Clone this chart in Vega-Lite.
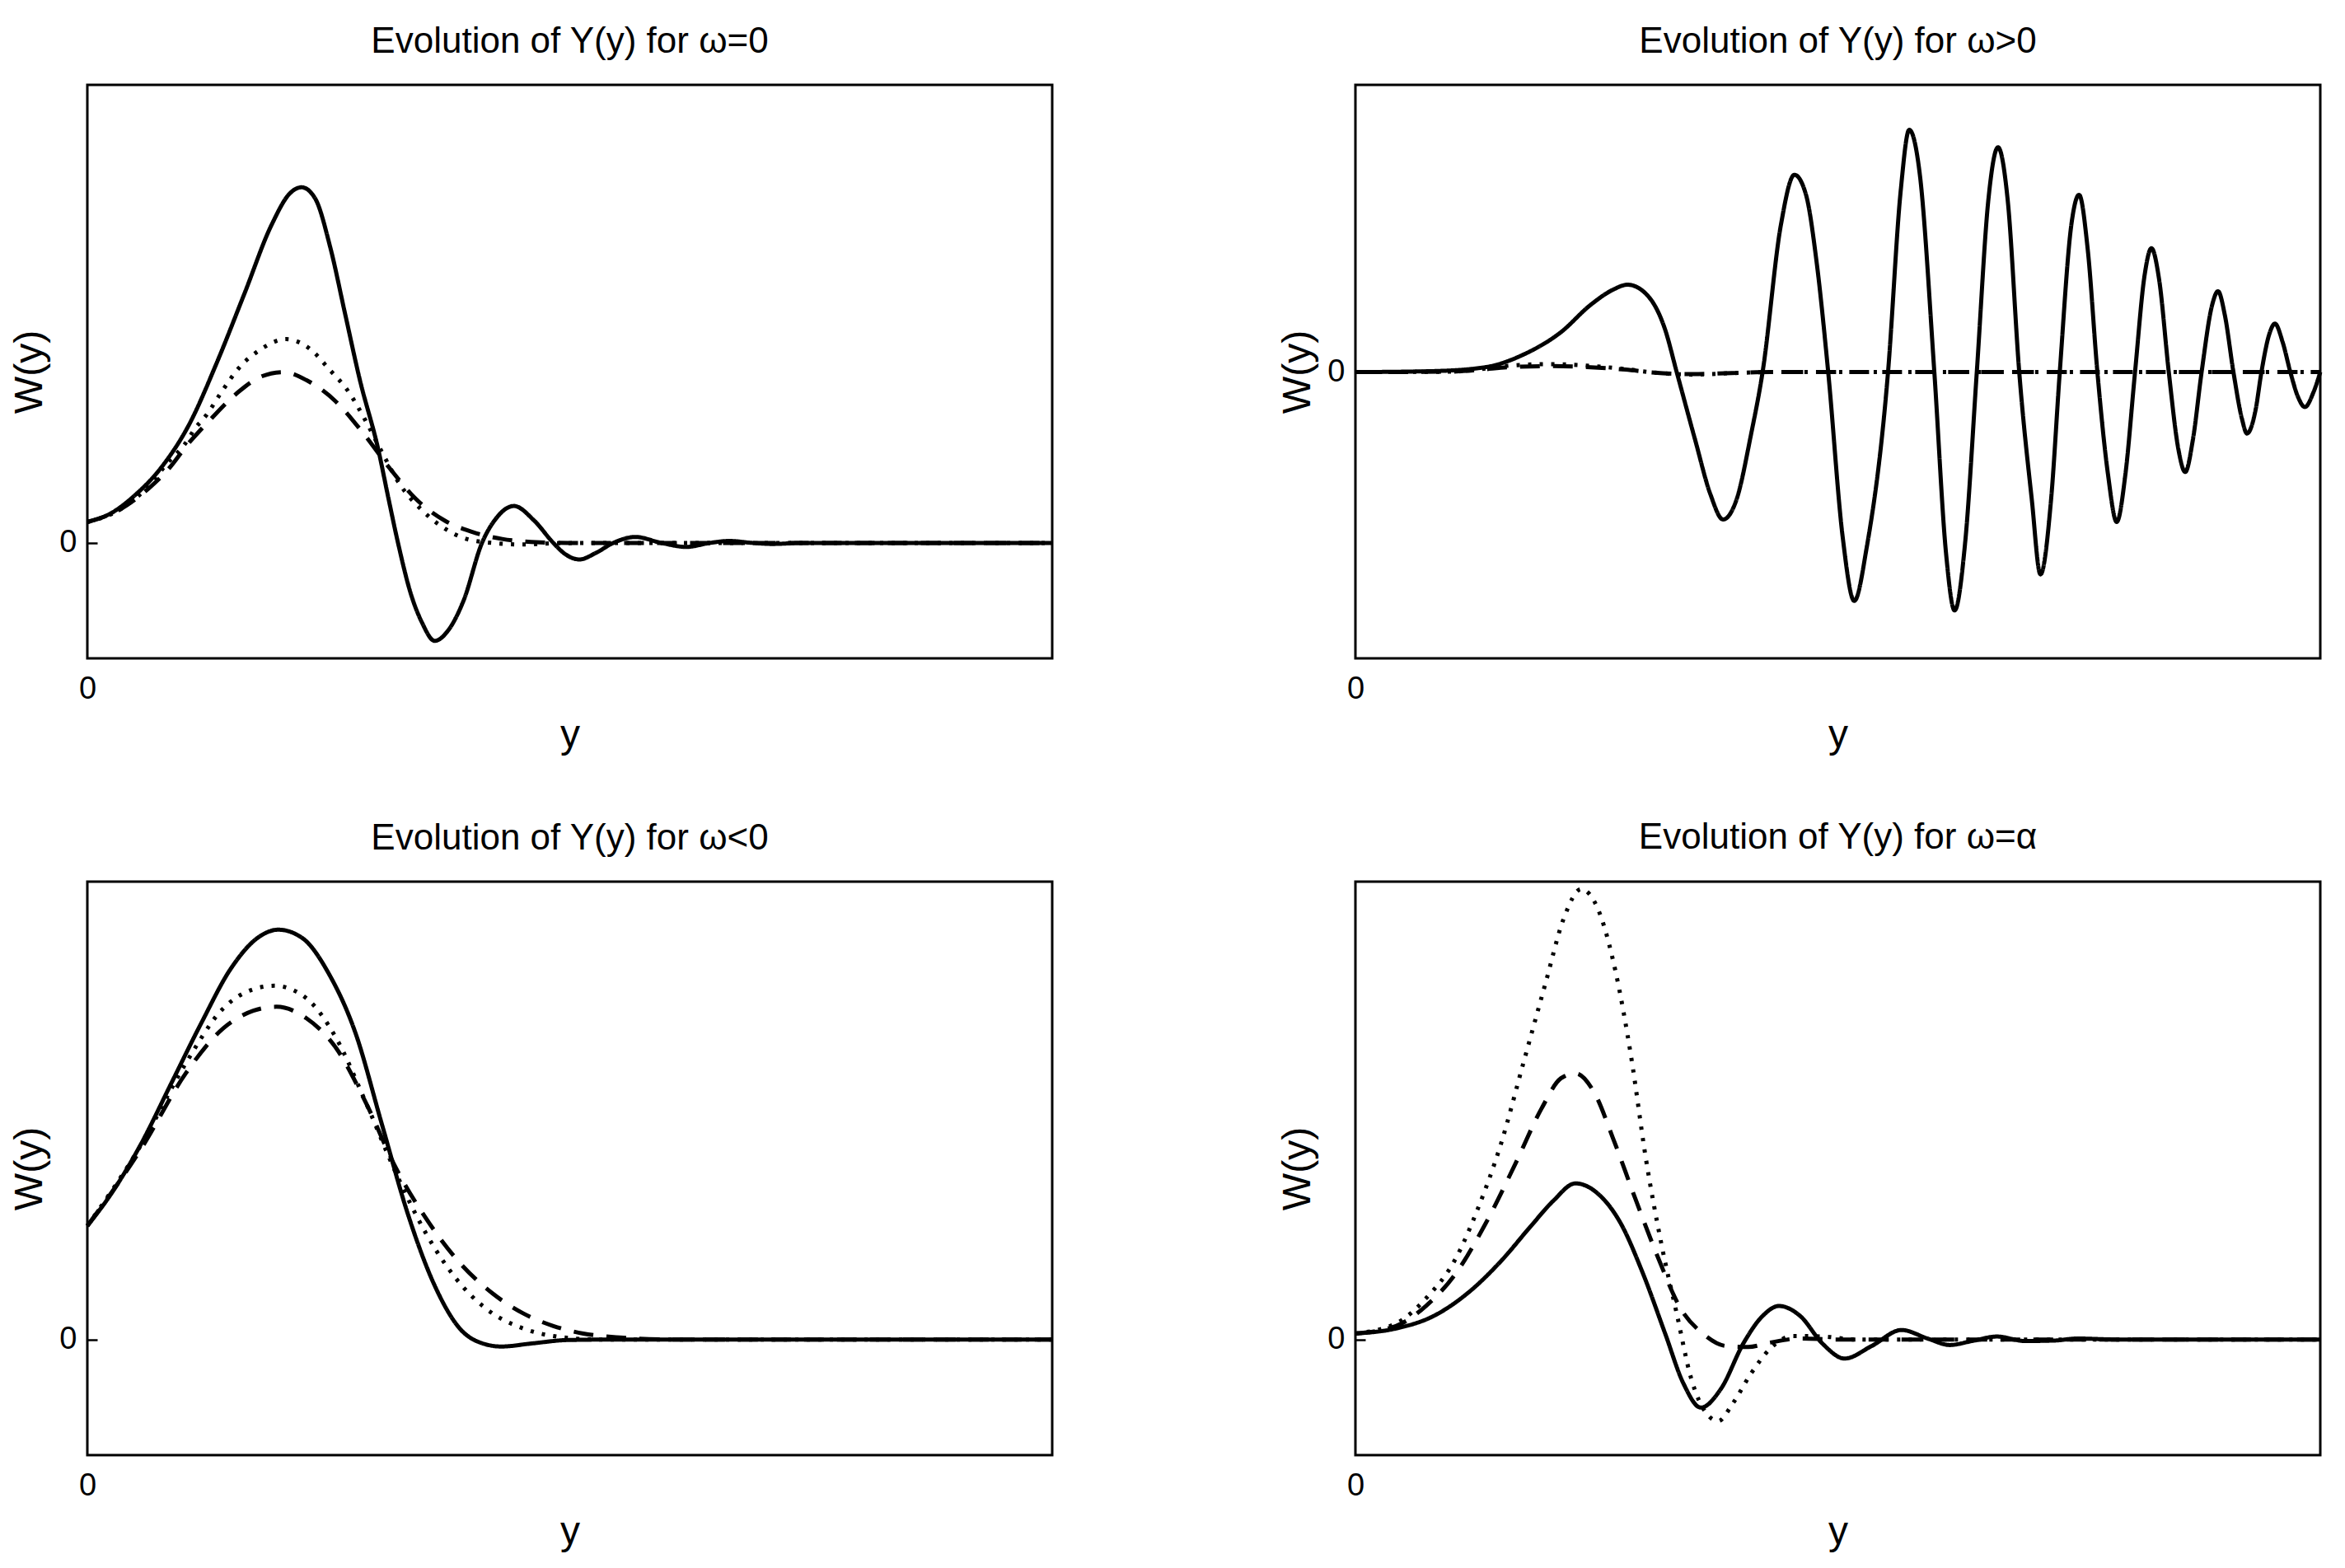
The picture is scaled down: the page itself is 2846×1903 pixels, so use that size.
{
  "$schema": "https://vega.github.io/schema/vega-lite/v6.json",
  "background": "white",
  "padding": {"left": 10, "top": 27, "right": 20, "bottom": 20},
  "config": {
    "font": "Liberation Sans",
    "view": {"stroke": "black", "strokeWidth": 3},
    "axis": {"grid": false, "domain": false, "labelFont": "Liberation Sans", "labelFontSize": 38, "labelColor": "black", "titleColor": "black", "titleFont": "Liberation Sans", "titleFontWeight": "normal", "titleFontSize": 48, "tickColor": "black", "tickWidth": 2.5, "labelFlush": false},
    "title": {"font": "Liberation Sans", "fontSize": 44, "fontWeight": "normal", "color": "black", "baseline": "alphabetic", "offset": 30, "anchor": "middle"},
    "line": {"color": "black", "interpolate": "monotone"}
  },
  "columns": 2,
  "spacing": {"row": 271, "column": 368},
  "bounds": "flush",
  "datasets": {
    "tl": [
      {"s": "dotted", "x": 0, "w": 0.42}, {"s": "dotted", "x": 0.33, "w": 0.66}, {"s": "dotted", "x": 0.64, "w": 1.15}, {"s": "dotted", "x": 0.83, "w": 1.6}, {"s": "dotted", "x": 1.0, "w": 1.95}, {"s": "dotted", "x": 1.12, "w": 2.3}, {"s": "dotted", "x": 1.23, "w": 2.55}, {"s": "dotted", "x": 1.39, "w": 3.02}, {"s": "dotted", "x": 1.57, "w": 3.5}, {"s": "dotted", "x": 1.8, "w": 3.88}, {"s": "dotted", "x": 2.06, "w": 4.08}, {"s": "dotted", "x": 2.31, "w": 3.88}, {"s": "dotted", "x": 2.51, "w": 3.47}, {"s": "dotted", "x": 2.71, "w": 3.02}, {"s": "dotted", "x": 2.88, "w": 2.46}, {"s": "dotted", "x": 3.05, "w": 1.83}, {"s": "dotted", "x": 3.25, "w": 1.14}, {"s": "dotted", "x": 3.45, "w": 0.69}, {"s": "dotted", "x": 3.68, "w": 0.32}, {"s": "dotted", "x": 3.93, "w": 0.08}, {"s": "dotted", "x": 4.2, "w": 0.0}, {"s": "dotted", "x": 4.5, "w": -0.03}, {"s": "dotted", "x": 4.8, "w": -0.01}, {"s": "dotted", "x": 5.2, "w": 0}, {"s": "dotted", "x": 10, "w": 0},
      {"s": "dashed", "x": 0, "w": 0.42}, {"s": "dashed", "x": 0.33, "w": 0.66}, {"s": "dashed", "x": 0.64, "w": 1.1}, {"s": "dashed", "x": 0.85, "w": 1.5}, {"s": "dashed", "x": 1.03, "w": 1.95}, {"s": "dashed", "x": 1.29, "w": 2.5}, {"s": "dashed", "x": 1.57, "w": 3.03}, {"s": "dashed", "x": 1.8, "w": 3.33}, {"s": "dashed", "x": 2.03, "w": 3.42}, {"s": "dashed", "x": 2.27, "w": 3.26}, {"s": "dashed", "x": 2.57, "w": 2.84}, {"s": "dashed", "x": 2.85, "w": 2.22}, {"s": "dashed", "x": 3.14, "w": 1.48}, {"s": "dashed", "x": 3.39, "w": 0.91}, {"s": "dashed", "x": 3.71, "w": 0.44}, {"s": "dashed", "x": 3.99, "w": 0.22}, {"s": "dashed", "x": 4.3, "w": 0.08}, {"s": "dashed", "x": 4.6, "w": 0.02}, {"s": "dashed", "x": 5.0, "w": 0}, {"s": "dashed", "x": 10, "w": 0},
      {"s": "solid", "x": 0, "w": 0.42}, {"s": "solid", "x": 0.25, "w": 0.6}, {"s": "solid", "x": 0.49, "w": 0.95}, {"s": "solid", "x": 0.77, "w": 1.52}, {"s": "solid", "x": 1.06, "w": 2.39}, {"s": "solid", "x": 1.34, "w": 3.6}, {"s": "solid", "x": 1.63, "w": 5.0}, {"s": "solid", "x": 1.91, "w": 6.37}, {"s": "solid", "x": 2.1, "w": 7.0}, {"s": "solid", "x": 2.22, "w": 7.12}, {"s": "solid", "x": 2.36, "w": 6.9}, {"s": "solid", "x": 2.52, "w": 5.9}, {"s": "solid", "x": 2.67, "w": 4.6}, {"s": "solid", "x": 2.82, "w": 3.3}, {"s": "solid", "x": 3.02, "w": 1.83}, {"s": "solid", "x": 3.12, "w": 0.9}, {"s": "solid", "x": 3.22, "w": 0}, {"s": "solid", "x": 3.35, "w": -1.0}, {"s": "solid", "x": 3.47, "w": -1.6}, {"s": "solid", "x": 3.6, "w": -1.96}, {"s": "solid", "x": 3.74, "w": -1.75}, {"s": "solid", "x": 3.9, "w": -1.15}, {"s": "solid", "x": 4.09, "w": 0}, {"s": "solid", "x": 4.24, "w": 0.5}, {"s": "solid", "x": 4.42, "w": 0.74}, {"s": "solid", "x": 4.63, "w": 0.45}, {"s": "solid", "x": 4.83, "w": 0}, {"s": "solid", "x": 4.95, "w": -0.22}, {"s": "solid", "x": 5.1, "w": -0.33}, {"s": "solid", "x": 5.27, "w": -0.2}, {"s": "solid", "x": 5.45, "w": 0}, {"s": "solid", "x": 5.68, "w": 0.12}, {"s": "solid", "x": 5.95, "w": 0}, {"s": "solid", "x": 6.21, "w": -0.08}, {"s": "solid", "x": 6.45, "w": 0}, {"s": "solid", "x": 6.65, "w": 0.04}, {"s": "solid", "x": 6.9, "w": 0}, {"s": "solid", "x": 7.1, "w": -0.02}, {"s": "solid", "x": 7.4, "w": 0}, {"s": "solid", "x": 10, "w": 0}
    ],
    "tr": [
      {"s": "dotted", "x": 0, "w": 0}, {"s": "dotted", "x": 1.0, "w": 0.01}, {"s": "dotted", "x": 1.3, "w": 0.06}, {"s": "dotted", "x": 1.6, "w": 0.13}, {"s": "dotted", "x": 2.0, "w": 0.16}, {"s": "dotted", "x": 2.4, "w": 0.13}, {"s": "dotted", "x": 2.8, "w": 0.06}, {"s": "dotted", "x": 3.1, "w": -0.01}, {"s": "dotted", "x": 3.5, "w": -0.05}, {"s": "dotted", "x": 3.9, "w": -0.02}, {"s": "dotted", "x": 4.3, "w": 0}, {"s": "dotted", "x": 10, "w": 0},
      {"s": "dashed", "x": 0, "w": 0}, {"s": "dashed", "x": 1.0, "w": 0.01}, {"s": "dashed", "x": 1.3, "w": 0.05}, {"s": "dashed", "x": 1.6, "w": 0.1}, {"s": "dashed", "x": 2.0, "w": 0.12}, {"s": "dashed", "x": 2.4, "w": 0.1}, {"s": "dashed", "x": 2.8, "w": 0.05}, {"s": "dashed", "x": 3.1, "w": -0.01}, {"s": "dashed", "x": 3.5, "w": -0.04}, {"s": "dashed", "x": 3.9, "w": -0.02}, {"s": "dashed", "x": 4.3, "w": 0}, {"s": "dashed", "x": 10, "w": 0},
      {"s": "solid", "x": 0, "w": 0}, {"s": "solid", "x": 0.81, "w": 0.02}, {"s": "solid", "x": 1.35, "w": 0.1}, {"s": "solid", "x": 1.74, "w": 0.35}, {"s": "solid", "x": 2.13, "w": 0.8}, {"s": "solid", "x": 2.44, "w": 1.35}, {"s": "solid", "x": 2.67, "w": 1.65}, {"s": "solid", "x": 2.82, "w": 1.75}, {"s": "solid", "x": 3.02, "w": 1.55}, {"s": "solid", "x": 3.21, "w": 0.85}, {"s": "solid", "x": 3.33, "w": 0}, {"s": "solid", "x": 3.52, "w": -1.35}, {"s": "solid", "x": 3.68, "w": -2.45}, {"s": "solid", "x": 3.81, "w": -2.95}, {"s": "solid", "x": 3.95, "w": -2.55}, {"s": "solid", "x": 4.1, "w": -1.25}, {"s": "solid", "x": 4.22, "w": 0}, {"s": "solid", "x": 4.41, "w": 2.95}, {"s": "solid", "x": 4.55, "w": 3.95}, {"s": "solid", "x": 4.67, "w": 3.55}, {"s": "solid", "x": 4.78, "w": 2.2}, {"s": "solid", "x": 4.9, "w": 0}, {"s": "solid", "x": 5.05, "w": -3.3}, {"s": "solid", "x": 5.17, "w": -4.58}, {"s": "solid", "x": 5.3, "w": -3.5}, {"s": "solid", "x": 5.52, "w": 0}, {"s": "solid", "x": 5.65, "w": 3.6}, {"s": "solid", "x": 5.74, "w": 4.85}, {"s": "solid", "x": 5.85, "w": 3.95}, {"s": "solid", "x": 6.0, "w": 0}, {"s": "solid", "x": 6.12, "w": -3.6}, {"s": "solid", "x": 6.21, "w": -4.77}, {"s": "solid", "x": 6.32, "w": -3.4}, {"s": "solid", "x": 6.44, "w": 0}, {"s": "solid", "x": 6.56, "w": 3.45}, {"s": "solid", "x": 6.66, "w": 4.5}, {"s": "solid", "x": 6.76, "w": 3.45}, {"s": "solid", "x": 6.88, "w": 0}, {"s": "solid", "x": 7.01, "w": -2.55}, {"s": "solid", "x": 7.1, "w": -4.05}, {"s": "solid", "x": 7.21, "w": -2.55}, {"s": "solid", "x": 7.3, "w": 0}, {"s": "solid", "x": 7.42, "w": 2.95}, {"s": "solid", "x": 7.5, "w": 3.55}, {"s": "solid", "x": 7.59, "w": 2.45}, {"s": "solid", "x": 7.69, "w": 0}, {"s": "solid", "x": 7.8, "w": -2.05}, {"s": "solid", "x": 7.89, "w": -3.0}, {"s": "solid", "x": 7.98, "w": -2.05}, {"s": "solid", "x": 8.08, "w": 0}, {"s": "solid", "x": 8.18, "w": 1.95}, {"s": "solid", "x": 8.25, "w": 2.48}, {"s": "solid", "x": 8.33, "w": 1.85}, {"s": "solid", "x": 8.43, "w": 0}, {"s": "solid", "x": 8.53, "w": -1.55}, {"s": "solid", "x": 8.6, "w": -2.0}, {"s": "solid", "x": 8.68, "w": -1.35}, {"s": "solid", "x": 8.77, "w": 0}, {"s": "solid", "x": 8.88, "w": 1.35}, {"s": "solid", "x": 8.94, "w": 1.62}, {"s": "solid", "x": 9.01, "w": 1.15}, {"s": "solid", "x": 9.1, "w": 0}, {"s": "solid", "x": 9.19, "w": -0.95}, {"s": "solid", "x": 9.24, "w": -1.23}, {"s": "solid", "x": 9.33, "w": -0.75}, {"s": "solid", "x": 9.39, "w": 0}, {"s": "solid", "x": 9.47, "w": 0.75}, {"s": "solid", "x": 9.53, "w": 0.97}, {"s": "solid", "x": 9.61, "w": 0.6}, {"s": "solid", "x": 9.69, "w": 0}, {"s": "solid", "x": 9.77, "w": -0.5}, {"s": "solid", "x": 9.84, "w": -0.7}, {"s": "solid", "x": 9.93, "w": -0.4}, {"s": "solid", "x": 10.0, "w": 0}
    ],
    "bl": [
      {"s": "dotted", "x": 0, "w": 2.27}, {"s": "dotted", "x": 0.56, "w": 3.9}, {"s": "dotted", "x": 1.02, "w": 5.52}, {"s": "dotted", "x": 1.41, "w": 6.62}, {"s": "dotted", "x": 1.72, "w": 7.0}, {"s": "dotted", "x": 1.94, "w": 7.07}, {"s": "dotted", "x": 2.27, "w": 6.82}, {"s": "dotted", "x": 2.58, "w": 6.02}, {"s": "dotted", "x": 2.89, "w": 4.72}, {"s": "dotted", "x": 3.2, "w": 3.32}, {"s": "dotted", "x": 3.51, "w": 2.12}, {"s": "dotted", "x": 3.82, "w": 1.22}, {"s": "dotted", "x": 4.13, "w": 0.62}, {"s": "dotted", "x": 4.52, "w": 0.22}, {"s": "dotted", "x": 4.83, "w": 0.07}, {"s": "dotted", "x": 5.3, "w": 0}, {"s": "dotted", "x": 10, "w": 0},
      {"s": "dashed", "x": 0, "w": 2.27}, {"s": "dashed", "x": 0.56, "w": 3.82}, {"s": "dashed", "x": 1.02, "w": 5.32}, {"s": "dashed", "x": 1.41, "w": 6.22}, {"s": "dashed", "x": 1.72, "w": 6.57}, {"s": "dashed", "x": 1.96, "w": 6.65}, {"s": "dashed", "x": 2.27, "w": 6.42}, {"s": "dashed", "x": 2.58, "w": 5.82}, {"s": "dashed", "x": 2.89, "w": 4.72}, {"s": "dashed", "x": 3.2, "w": 3.42}, {"s": "dashed", "x": 3.51, "w": 2.42}, {"s": "dashed", "x": 3.82, "w": 1.62}, {"s": "dashed", "x": 4.2, "w": 0.92}, {"s": "dashed", "x": 4.52, "w": 0.52}, {"s": "dashed", "x": 4.83, "w": 0.27}, {"s": "dashed", "x": 5.14, "w": 0.12}, {"s": "dashed", "x": 5.52, "w": 0.04}, {"s": "dashed", "x": 6.06, "w": 0}, {"s": "dashed", "x": 10, "w": 0},
      {"s": "solid", "x": 0, "w": 2.27}, {"s": "solid", "x": 0.25, "w": 2.92}, {"s": "solid", "x": 0.56, "w": 3.92}, {"s": "solid", "x": 0.87, "w": 5.12}, {"s": "solid", "x": 1.18, "w": 6.32}, {"s": "solid", "x": 1.49, "w": 7.42}, {"s": "solid", "x": 1.76, "w": 8.02}, {"s": "solid", "x": 1.98, "w": 8.19}, {"s": "solid", "x": 2.23, "w": 8.02}, {"s": "solid", "x": 2.5, "w": 7.32}, {"s": "solid", "x": 2.78, "w": 6.12}, {"s": "solid", "x": 3.05, "w": 4.32}, {"s": "solid", "x": 3.32, "w": 2.52}, {"s": "solid", "x": 3.59, "w": 1.12}, {"s": "solid", "x": 3.86, "w": 0.22}, {"s": "solid", "x": 4.1, "w": -0.08}, {"s": "solid", "x": 4.29, "w": -0.14}, {"s": "solid", "x": 4.6, "w": -0.08}, {"s": "solid", "x": 4.98, "w": -0.01}, {"s": "solid", "x": 5.5, "w": 0}, {"s": "solid", "x": 10, "w": 0}
    ],
    "br": [
      {"s": "dotted", "x": 0, "w": 0.12}, {"s": "dotted", "x": 0.42, "w": 0.32}, {"s": "dotted", "x": 0.73, "w": 0.82}, {"s": "dotted", "x": 1.04, "w": 1.62}, {"s": "dotted", "x": 1.27, "w": 2.62}, {"s": "dotted", "x": 1.51, "w": 3.92}, {"s": "dotted", "x": 1.74, "w": 5.52}, {"s": "dotted", "x": 1.97, "w": 7.12}, {"s": "dotted", "x": 2.16, "w": 8.42}, {"s": "dotted", "x": 2.34, "w": 9.0}, {"s": "dotted", "x": 2.51, "w": 8.62}, {"s": "dotted", "x": 2.7, "w": 7.32}, {"s": "dotted", "x": 2.86, "w": 5.62}, {"s": "dotted", "x": 3.01, "w": 3.62}, {"s": "dotted", "x": 3.17, "w": 1.92}, {"s": "dotted", "x": 3.33, "w": 0.52}, {"s": "dotted", "x": 3.48, "w": -0.78}, {"s": "dotted", "x": 3.64, "w": -1.48}, {"s": "dotted", "x": 3.76, "w": -1.63}, {"s": "dotted", "x": 3.91, "w": -1.28}, {"s": "dotted", "x": 4.1, "w": -0.68}, {"s": "dotted", "x": 4.3, "w": -0.18}, {"s": "dotted", "x": 4.53, "w": 0.07}, {"s": "dotted", "x": 4.84, "w": 0.06}, {"s": "dotted", "x": 5.2, "w": 0}, {"s": "dotted", "x": 10, "w": 0},
      {"s": "dashed", "x": 0, "w": 0.12}, {"s": "dashed", "x": 0.42, "w": 0.27}, {"s": "dashed", "x": 0.73, "w": 0.67}, {"s": "dashed", "x": 1.04, "w": 1.32}, {"s": "dashed", "x": 1.35, "w": 2.32}, {"s": "dashed", "x": 1.66, "w": 3.52}, {"s": "dashed", "x": 1.93, "w": 4.62}, {"s": "dashed", "x": 2.13, "w": 5.22}, {"s": "dashed", "x": 2.28, "w": 5.32}, {"s": "dashed", "x": 2.48, "w": 4.92}, {"s": "dashed", "x": 2.67, "w": 4.02}, {"s": "dashed", "x": 2.9, "w": 2.82}, {"s": "dashed", "x": 3.14, "w": 1.62}, {"s": "dashed", "x": 3.37, "w": 0.62}, {"s": "dashed", "x": 3.6, "w": 0.12}, {"s": "dashed", "x": 3.84, "w": -0.13}, {"s": "dashed", "x": 4.07, "w": -0.15}, {"s": "dashed", "x": 4.3, "w": -0.06}, {"s": "dashed", "x": 4.61, "w": 0.02}, {"s": "dashed", "x": 5.0, "w": 0}, {"s": "dashed", "x": 10, "w": 0},
      {"s": "solid", "x": 0, "w": 0.12}, {"s": "solid", "x": 0.42, "w": 0.22}, {"s": "solid", "x": 0.81, "w": 0.47}, {"s": "solid", "x": 1.19, "w": 0.97}, {"s": "solid", "x": 1.51, "w": 1.57}, {"s": "solid", "x": 1.82, "w": 2.27}, {"s": "solid", "x": 2.05, "w": 2.77}, {"s": "solid", "x": 2.28, "w": 3.12}, {"s": "solid", "x": 2.51, "w": 2.92}, {"s": "solid", "x": 2.75, "w": 2.32}, {"s": "solid", "x": 2.98, "w": 1.32}, {"s": "solid", "x": 3.21, "w": 0.12}, {"s": "solid", "x": 3.4, "w": -0.88}, {"s": "solid", "x": 3.58, "w": -1.36}, {"s": "solid", "x": 3.79, "w": -0.98}, {"s": "solid", "x": 4.02, "w": -0.08}, {"s": "solid", "x": 4.22, "w": 0.47}, {"s": "solid", "x": 4.39, "w": 0.67}, {"s": "solid", "x": 4.61, "w": 0.47}, {"s": "solid", "x": 4.84, "w": -0.08}, {"s": "solid", "x": 5.07, "w": -0.38}, {"s": "solid", "x": 5.35, "w": -0.13}, {"s": "solid", "x": 5.66, "w": 0.19}, {"s": "solid", "x": 5.93, "w": 0.02}, {"s": "solid", "x": 6.16, "w": -0.11}, {"s": "solid", "x": 6.39, "w": -0.03}, {"s": "solid", "x": 6.65, "w": 0.06}, {"s": "solid", "x": 6.94, "w": -0.03}, {"s": "solid", "x": 7.25, "w": -0.02}, {"s": "solid", "x": 7.48, "w": 0.02}, {"s": "solid", "x": 7.9, "w": 0}, {"s": "solid", "x": 10, "w": 0}
    ]
  },
  "concat": [
    {
      "width": 1171, "height": 696,
      "title": "Evolution of Y(y) for ω=0",
      "data": {"name": "tl"},
      "mark": {"type": "line", "color": "black", "interpolate": "monotone"},
      "encoding": {
        "x": {"field": "x", "type": "quantitative", "scale": {"domain": [0, 10], "nice": false, "zero": false}, "axis": {"values": [0], "title": "y", "ticks": false, "labelPadding": 18, "titleY": 107, "titleBaseline": "alphabetic"}},
        "y": {"field": "w", "type": "quantitative", "scale": {"domain": [-2.31, 9.17], "nice": false, "zero": false}, "axis": {"values": [0], "title": "W(y)", "tickSize": -12, "labelPadding": 25, "labelBaseline": "middle", "titleX": -56, "titleY": 348, "titleBaseline": "alphabetic", "titleAngle": 270, "titleAlign": "center"}},
        "strokeDash": {"field": "s", "type": "nominal", "scale": {"domain": ["solid", "dashed", "dotted"], "range": [[1, 0], [24, 16], [4, 10]]}, "legend": null},
        "strokeWidth": {"field": "s", "type": "ordinal", "scale": {"domain": ["solid", "dashed", "dotted"], "range": [5, 5, 3.5]}, "legend": null}
      }
    },
    {
      "width": 1171, "height": 696,
      "title": "Evolution of Y(y) for ω>0",
      "data": {"name": "tr"},
      "mark": {"type": "line", "color": "black", "interpolate": "monotone"},
      "encoding": {
        "x": {"field": "x", "type": "quantitative", "scale": {"domain": [0, 10], "nice": false, "zero": false}, "axis": {"values": [0], "title": "y", "ticks": false, "labelPadding": 18, "titleY": 107, "titleBaseline": "alphabetic"}},
        "y": {"field": "w", "type": "quantitative", "scale": {"domain": [-5.73, 5.75], "nice": false, "zero": false}, "axis": {"values": [0], "title": "W(y)", "tickSize": -12, "labelPadding": 25, "labelBaseline": "middle", "titleX": -56, "titleY": 348, "titleBaseline": "alphabetic", "titleAngle": 270, "titleAlign": "center"}},
        "strokeDash": {"field": "s", "type": "nominal", "scale": {"domain": ["solid", "dashed", "dotted"], "range": [[1, 0], [24, 16], [4, 10]]}, "legend": null},
        "strokeWidth": {"field": "s", "type": "ordinal", "scale": {"domain": ["solid", "dashed", "dotted"], "range": [5, 5, 3.5]}, "legend": null}
      }
    },
    {
      "width": 1171, "height": 696,
      "title": "Evolution of Y(y) for ω<0",
      "data": {"name": "bl"},
      "mark": {"type": "line", "color": "black", "interpolate": "monotone"},
      "encoding": {
        "x": {"field": "x", "type": "quantitative", "scale": {"domain": [0, 10], "nice": false, "zero": false}, "axis": {"values": [0], "title": "y", "ticks": false, "labelPadding": 18, "titleY": 107, "titleBaseline": "alphabetic"}},
        "y": {"field": "w", "type": "quantitative", "scale": {"domain": [-2.31, 9.15], "nice": false, "zero": false}, "axis": {"values": [0], "title": "W(y)", "tickSize": -12, "labelPadding": 25, "labelBaseline": "middle", "titleX": -56, "titleY": 348, "titleBaseline": "alphabetic", "titleAngle": 270, "titleAlign": "center"}},
        "strokeDash": {"field": "s", "type": "nominal", "scale": {"domain": ["solid", "dashed", "dotted"], "range": [[1, 0], [24, 16], [4, 10]]}, "legend": null},
        "strokeWidth": {"field": "s", "type": "ordinal", "scale": {"domain": ["solid", "dashed", "dotted"], "range": [5, 5, 3.5]}, "legend": null}
      }
    },
    {
      "width": 1171, "height": 696,
      "title": "Evolution of Y(y) for ω=α",
      "data": {"name": "br"},
      "mark": {"type": "line", "color": "black", "interpolate": "monotone"},
      "encoding": {
        "x": {"field": "x", "type": "quantitative", "scale": {"domain": [0, 10], "nice": false, "zero": false}, "axis": {"values": [0], "title": "y", "ticks": false, "labelPadding": 18, "titleY": 107, "titleBaseline": "alphabetic"}},
        "y": {"field": "w", "type": "quantitative", "scale": {"domain": [-2.31, 9.15], "nice": false, "zero": false}, "axis": {"values": [0], "title": "W(y)", "tickSize": -12, "labelPadding": 25, "labelBaseline": "middle", "titleX": -56, "titleY": 348, "titleBaseline": "alphabetic", "titleAngle": 270, "titleAlign": "center"}},
        "strokeDash": {"field": "s", "type": "nominal", "scale": {"domain": ["solid", "dashed", "dotted"], "range": [[1, 0], [24, 16], [4, 10]]}, "legend": null},
        "strokeWidth": {"field": "s", "type": "ordinal", "scale": {"domain": ["solid", "dashed", "dotted"], "range": [5, 5, 3.5]}, "legend": null}
      }
    }
  ]
}
